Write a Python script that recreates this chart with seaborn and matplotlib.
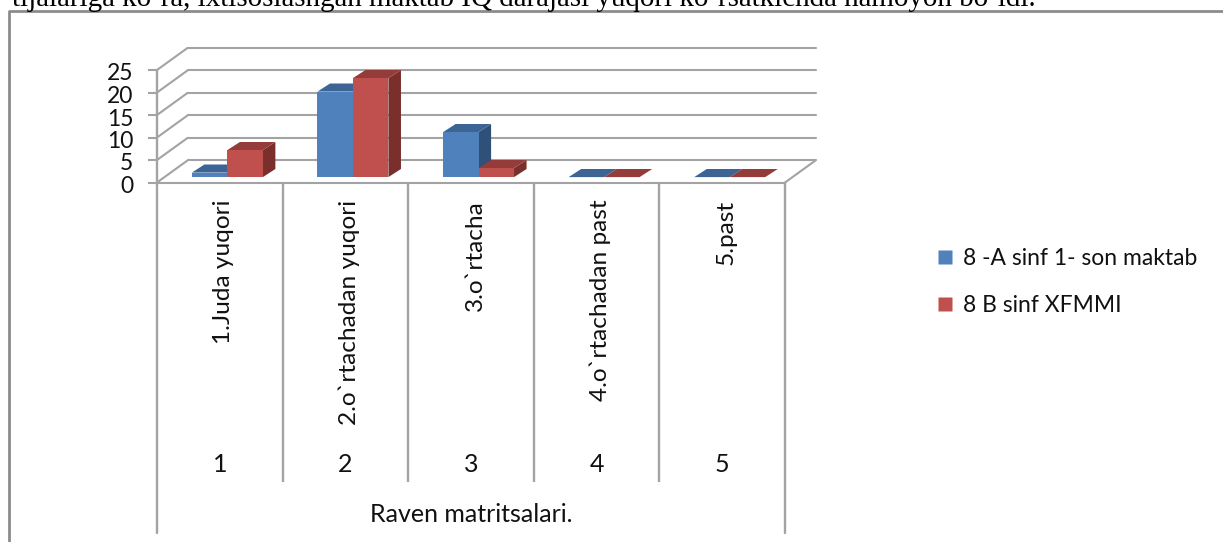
import pandas as pd
import matplotlib
matplotlib.use("Agg")
import matplotlib.pyplot as plt
from matplotlib.patches import Polygon
from matplotlib.lines import Line2D
from matplotlib.transforms import ScaledTranslation
import seaborn as sns

# ---- data ----
categories = ["1.Juda yuqori", "2.o`rtachadan yuqori", "3.o`rtacha", "4.o`rtachadan past", "5.past"]
numbers = ["1", "2", "3", "4", "5"]
group_a = [1, 19, 10, 0, 0]
group_b = [6, 22, 2, 0, 0]
series_names = ["8 -A sinf 1- son maktab", "8 B sinf XFMMI"]
y_ticks = [0, 5, 10, 15, 20, 25]
axis_title = "Raven matritsalari."
top_line = "tijalariga ko`ra, ixtisoslashgan maktab IQ darajasi yuqori ko`rsatkichda namoyon bo`ldi."

W, H = 1223, 542
GRID = "#a3a3a3"
FRONT = ["#4f81bd", "#c0504d"]
TOP = ["#3c6494", "#943c3a"]
SIDE = ["#2f5078", "#7a2f2d"]

df = pd.DataFrame({
    "category": categories * 2,
    "series": [series_names[0]] * 5 + [series_names[1]] * 5,
    "value": group_a + group_b,
})

sns.set_theme(style="white")
plt.rcParams["font.family"] = ["Lato", "DejaVu Sans"]

fig = plt.figure(figsize=(W / 100, H / 100), dpi=100)

# axes box = front plane of the fake 3D chart (pixels: x 157-785, y 70-182.5)
left, right, top, bottom = 157, 785, 70, 182.5
ax = fig.add_axes([left / W, 1 - bottom / H, (right - left) / W, (bottom - top) / H])
ax.patch.set_alpha(0)

sns.barplot(data=df, x="category", y="value", hue="series", hue_order=series_names,
            palette=FRONT, width=0.565, gap=0, saturation=1, dodge=True, ax=ax,
            legend=False, zorder=3, linewidth=0, edgecolor="none")
ax.set_xlim(-0.5, 4.5)
ax.set_ylim(0, 25)

# depth of the floor and of the bars, in data units
DX, DY = 0.243, 4.9
BX, BY = 0.06, 1.2
CX, CY = 0.1, 1.8

# ---- back wall, left wall and floor ----
for v in y_ticks:
    ax.plot([-0.5 + DX, 4.5 + DX], [v + DY, v + DY], color=GRID, lw=1.5, clip_on=False, zorder=1)
    ax.plot([-0.5, -0.5 + DX], [v, v + DY], color=GRID, lw=1.5, clip_on=False, zorder=1)
ax.plot([-0.5, 4.5], [0, 0], color=GRID, lw=1.5, clip_on=False, zorder=2)
ax.plot([4.5, 4.5 + DX], [0, DY], color=GRID, lw=1.5, clip_on=False, zorder=2)

# ---- move the bars back onto the floor and give them a top and a side ----
bars = [b for c in ax.containers for b in c]
n = len(categories)
for i, bar in enumerate(bars):
    s = i // n
    bar.set_x(bar.get_x() + BX)
    bar.set_y(bar.get_y() + BY)
    x0, x1 = bar.get_x(), bar.get_x() + bar.get_width()
    y0, y1 = bar.get_y(), bar.get_y() + bar.get_height()
    z = 3 + 2 * (i % n) + s * 0.5
    bar.set_zorder(z + 0.2)
    bar.set_clip_on(False)
    ax.add_patch(Polygon([(x0, y1), (x1, y1), (x1 + CX, y1 + CY), (x0 + CX, y1 + CY)],
                         closed=True, fc=TOP[s], ec="none", clip_on=False, zorder=z + 0.1))
    ax.add_patch(Polygon([(x1, y0), (x1 + CX, y0 + CY), (x1 + CX, y1 + CY), (x1, y1)],
                         closed=True, fc=SIDE[s], ec="none", clip_on=False, zorder=z))

# ---- value axis ----
ax.set_yticks(y_ticks)
ax.tick_params(axis="y", length=6.5, width=1.5, color=GRID, pad=10.5, left=True, labelsize=16.5,
               labelcolor="#111111")
for lab in ax.get_yticklabels():
    lab.set_transform(lab.get_transform() + ScaledTranslation(0, -2 / 100, fig.dpi_scale_trans))
for sp in ax.spines.values():
    sp.set_visible(False)
ax.set_xlabel("")
ax.set_ylabel("")

# ---- category axis with its three levels ----
y_per_px = 25 / (bottom - top)
sep_end = -(482 - bottom) * y_per_px
axis_end = -(532.5 - bottom) * y_per_px
ax.plot([-0.5, -0.5], [25, axis_end], color=GRID, lw=1.7, clip_on=False, zorder=2)
ax.plot([4.5, 4.5], [0, axis_end], color=GRID, lw=1.7, clip_on=False, zorder=2)
ax.vlines([0.5, 1.5, 2.5, 3.5], sep_end, 0, color=GRID, lw=1.7, clip_on=False, zorder=2)

ax.set_xticks(range(n))
ax.set_xticklabels(categories, rotation=90, fontsize=17.6, color="#111111")
ax.tick_params(axis="x", length=0, pad=12.5)
for lab in ax.get_xticklabels():
    lab.set_transform(lab.get_transform() + ScaledTranslation(4 / 100, 0, fig.dpi_scale_trans))

for i, num in enumerate(numbers):
    ax.text(i, -(465 - bottom) * y_per_px, num, ha="center", va="center", fontsize=18, color="#111111")
ax.text(2, -(515 - bottom) * y_per_px, axis_title, ha="center", va="center", fontsize=18, color="#111111")

# ---- legend ----
handles = [Line2D([], [], marker="s", ls="none", ms=9.5, mfc=c, mec="none") for c in FRONT]
fig.legend(handles, series_names, loc="center left", bbox_to_anchor=(901 / W, 1 - 282 / H),
           frameon=False, fontsize=16.5, labelspacing=1.15, handletextpad=-0.2, labelcolor="#111111")

# ---- chart frame and the line of page text above it ----
fig.add_artist(Line2D([9 / W, 9 / W, 1], [0, 1 - 11 / H, 1 - 11 / H], color="#8c8c8c", lw=2))
fig.text(12 / W, 1 - 5.5 / H, top_line, family="Liberation Serif", fontsize=20.9, color="black",
         ha="left", va="baseline")

fig.savefig("out.png", dpi=100)
